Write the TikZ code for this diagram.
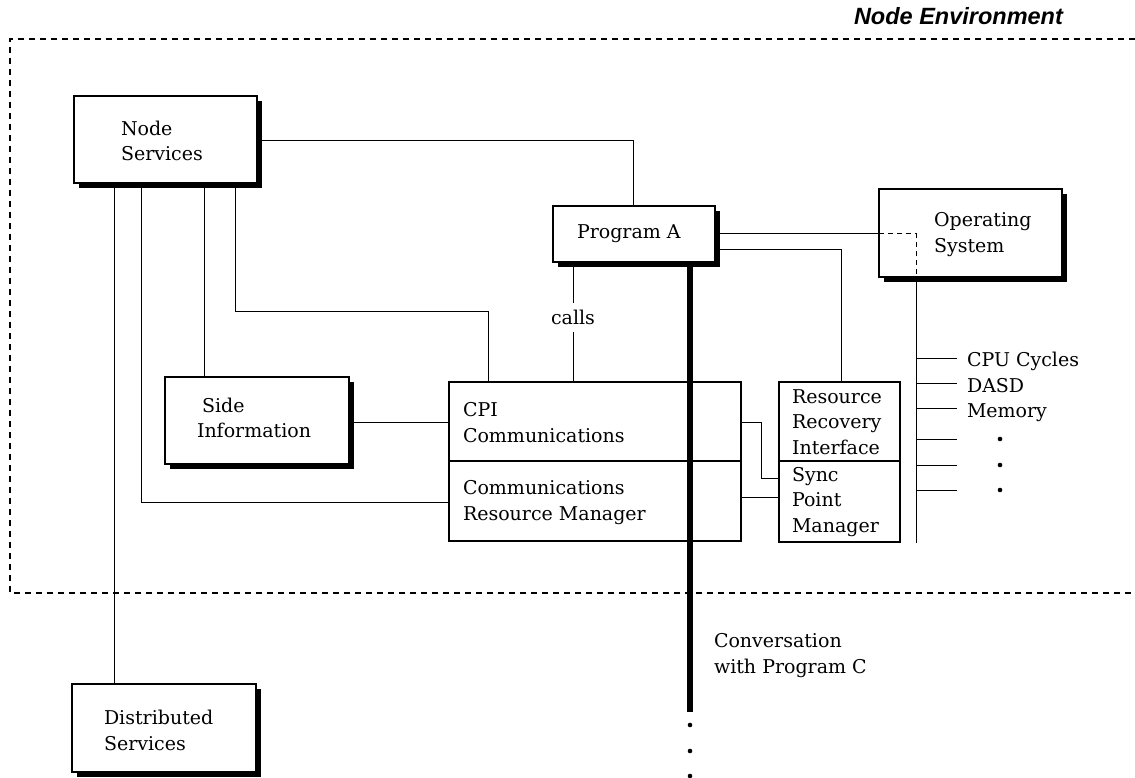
\documentclass[tikz,border=0pt]{standalone}
\usepackage{fontspec}
\setmainfont{DejaVu Serif}
\newfontfamily\helv{Liberation Sans}
\usetikzlibrary{shadows,calc}
\begin{document}
\begin{tikzpicture}[x=1pt,y=-1pt,
  every node/.style={inner sep=0pt, outer sep=0pt},
  lbl/.style={font=\fontsize{19}{25.5}\selectfont, anchor=base west, align=left},
  box/.style={draw, line width=1.2pt, fill=white, anchor=north west, inner sep=0pt, outer sep=0pt},
  shbox/.style={box, drop shadow={shadow xshift=5pt, shadow yshift=-5pt, fill=black, opacity=1}},
  conn/.style={line width=1pt},
  thickconn/.style={line width=6pt},
  frame/.style={line width=1.2pt, dash pattern=on 6pt off 5pt},
  osdash/.style={line width=1pt, dash pattern=on 5pt off 4pt},
  gaplbl/.style={font=\fontsize{19}{25.5}\selectfont, fill=white, inner xsep=3pt, inner ysep=7pt},
]
\useasboundingbox (0,0) rectangle (1135,778);

% environment frame
\draw[frame] (1135,39) -- (10,39) -- (10,593) -- (1135,593);
\node[font=\helv\bfseries\itshape\fontsize{23.5}{26}\selectfont, anchor=base west] (env) at (854,25) {Node Environment};

% boxes
\node[shbox, minimum width=183pt, minimum height=87pt] (ns) at (74,96) {};
\node[shbox, minimum width=162pt, minimum height=56pt] (pa) at (553,206) {};
\node[shbox, minimum width=183pt, minimum height=88pt] (os) at (879,189) {};
\node[shbox, minimum width=184pt, minimum height=87pt] (si) at (165,377) {};
\node[box, minimum width=292pt, minimum height=159pt] (cpi) at (449,382) {};
\node[box, minimum width=121pt, minimum height=160pt] (rr) at (779,382) {};
\node[shbox, minimum width=184pt, minimum height=88pt] (ds) at (72,684) {};

% dividers
\draw[line width=1.2pt] ($(cpi.north west)+(0,79)$) -- ($(cpi.north east)+(0,79)$);
\draw[line width=1.2pt] ($(rr.north west)+(0,79)$) -- ($(rr.north east)+(0,79)$);

% texts (anchor = baseline of the last line)
\node[lbl] (nst) at (121,161) {Node\\Services};
\node[lbl] (pat) at (577,239) {Program A};
\node[lbl] (ost) at (934,252) {Operating\\System};
\node[lbl] (sit1) at (202,412) {Side};
\node[lbl] (sit2) at (197,437.5) {Information};
\node[lbl] (cpit) at (463,442) {CPI\\Communications};
\node[lbl] (crmt) at (463,520) {Communications\\Resource Manager};
\node[lbl] (rrit) at (792,454) {Resource\\Recovery\\Interface};
\node[lbl] (spmt) at (792,532) {Sync\\Point\\Manager};
\node[lbl] (dst) at (104,750) {Distributed\\Services};
\node[lbl] (convt) at (714,673) {Conversation\\with Program C};

% connectors
\draw[conn] ($(ns.north east)+(0,45)$) -| ($(pa.north west)+(80,0)$);
\draw[conn] ($(pa.north east)+(0,28)$) -- ($(os.north west)+(0,45)$);
\draw[osdash] ($(os.north west)+(0,45)$) -| ($(os.south west)+(37,0)$);
\coordinate (osend) at (916,543);
\draw[conn] ($(os.south west)+(37,0)$) -- (osend);
\draw[conn] ($(pa.north east)+(0,43)$) -| ($(rr.north west)+(62,0)$);
\draw[conn] ($(pa.south west)+(20,0)$) -- node[gaplbl, pos=0.46] (calls) {calls} ($(cpi.north west)+(124,0)$);
\draw[conn] ($(ns.south west)+(40,0)$) -- ($(ds.north west)+(42,0)$);
\draw[conn] ($(ns.south west)+(67,0)$) |- ($(cpi.north west)+(0,120)$);
\draw[conn] ($(ns.south west)+(130,0)$) -- ($(si.north west)+(39,0)$);
\draw[conn] ($(ns.south west)+(161,0)$) -- ++(0,128) -| ($(cpi.north west)+(39,0)$);
\draw[conn] ($(si.north east)+(0,45)$) -- ($(cpi.north west)+(0,40)$);
\draw[conn] ($(cpi.north east)+(0,40)$) -- ++(20,0) |- ($(rr.north west)+(0,96)$);
\draw[conn] ($(cpi.north east)+(0,115)$) -- ($(rr.north west)+(0,115)$);

% conversation line
\coordinate (convend) at (690,712);
\draw[thickconn] ($(pa.south west)+(137,0)$) -- (convend);
\foreach \yy in {725,751,776} \fill (690,\yy) circle (2.3pt);

% resources list
\foreach \yy in {358,383,408,439,465,490} \draw[conn] (916,\yy) -- (957,\yy);
\node[lbl] (cpu) at (967,366) {CPU Cycles};
\node[lbl] (dasd) at (967,392) {DASD};
\node[lbl] (mem) at (967,417) {Memory};
\foreach \yy in {439,465,490} \fill (1000,\yy) circle (2.3pt);
\end{tikzpicture}
\end{document}
